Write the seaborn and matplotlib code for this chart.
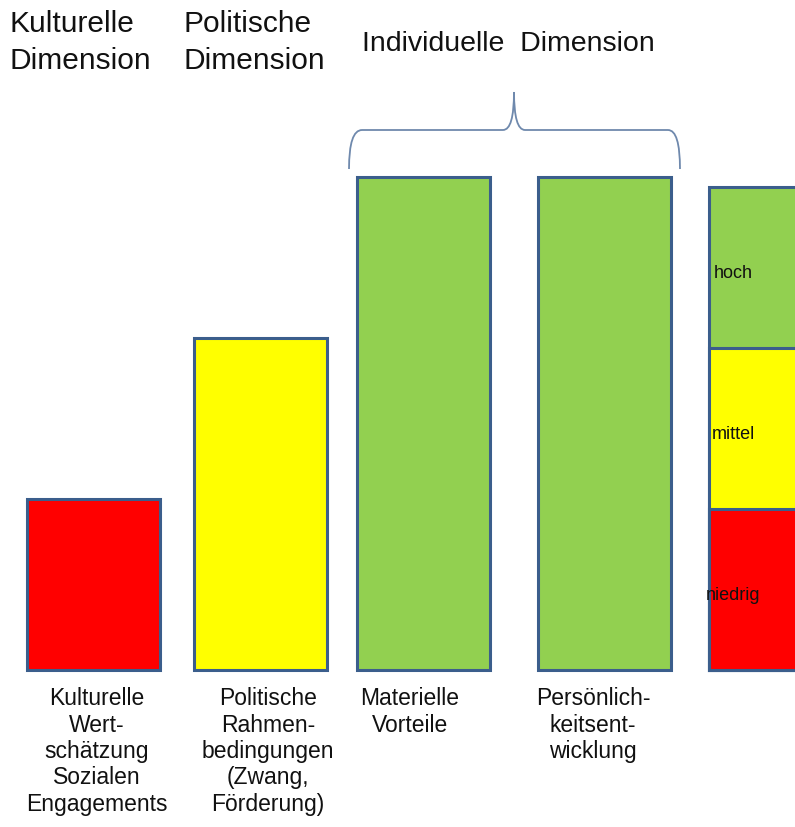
import numpy as np
import matplotlib
matplotlib.use("Agg")
import matplotlib.pyplot as plt
from matplotlib.path import Path
from matplotlib.patches import PathPatch
import seaborn as sns

# data
categories = ["Kulturelle\nWert-\nschätzung\nSozialen\nEngagements",
              "Politische\nRahmen-\nbedingungen\n(Zwang,\nFörderung)",
              "Materielle\nVorteile",
              "Persönlich-\nkeitsent-\nwicklung"]
levels = [1.06, 2.06, 3.06, 3.06]
bar_colors = ["#FF0000", "#FFFF00", "#92D050", "#92D050"]

scale_labels = ["hoch", "mittel", "niedrig"]
scale_sizes = [1, 1, 1]
scale_colors = ["#92D050", "#FFFF00", "#FF0000"]

headers = ["Kulturelle\nDimension", "Politische\nDimension", "Individuelle  Dimension"]

# layout (pixel based x axis, value based y axis)
bar_x = [93.5, 260.5, 423.5, 604.5]
label_x = [97, 268, 410, 593]
scale_x = 775.5
edge = "#3B5E8C"

sns.set_theme(style="white")
plt.rcParams["font.family"] = ["Liberation Sans", "DejaVu Sans"]
plt.rcParams["text.color"] = "#111111"

fig = plt.figure(figsize=(7.95, 8.28), dpi=100)
ax = fig.add_axes([0, 0, 1, 1])

sns.barplot(x=bar_x, y=levels, hue=categories, palette=bar_colors,
            native_scale=True, width=133 / 163, legend=False, saturation=1,
            edgecolor=edge, linewidth=2.2, ax=ax)

# stacked scale bar on the right (drawn tallest first)
tops = np.cumsum(scale_sizes[::-1])[::-1]
for lab, top, col in zip(scale_labels, tops, scale_colors):
    sns.barplot(x=[scale_x], y=[top], native_scale=True, width=133,
                color=col, saturation=1, edgecolor=edge, linewidth=2.2, ax=ax)
    ax.text(733, top - 0.53, lab, ha="center", va="center", fontsize=13)

# category labels under the bars
for x, lab in zip(label_x, categories):
    ax.text(x, -0.1, lab, ha="center", va="top", fontsize=16.5,
            linespacing=1.19)

ax.set_xlim(0, 795)
ax.set_ylim(-157 / 161, 671 / 161)
ax.axis("off")

# headers
fig.text(10 / 795, 1 - 10 / 828, headers[0], ha="left", va="top", fontsize=21.5, linespacing=1.4)
fig.text(183 / 795, 1 - 10 / 828, headers[1], ha="left", va="top", fontsize=21.5, linespacing=1.4)
fig.text(362 / 795, 1 - 44 / 828, headers[2], ha="left", va="center", fontsize=20.5)

# brace over the individual dimension
ov = fig.add_axes([0, 0, 1, 1], facecolor="none")
ov.set_xlim(0, 795)
ov.set_ylim(828, 0)
ov.axis("off")
verts = [(349, 170), (349, 131), (362, 131),
         (503, 131), (514, 131), (514, 93),
         (514, 131), (525, 131),
         (668, 131), (680, 131), (680, 170)]
codes = [Path.MOVETO, Path.CURVE3, Path.CURVE3,
         Path.LINETO, Path.CURVE3, Path.CURVE3,
         Path.CURVE3, Path.CURVE3,
         Path.LINETO, Path.CURVE3, Path.CURVE3]
ov.add_patch(PathPatch(Path(verts, codes), fill=False, edgecolor="#6F89AD", linewidth=1.3))

fig.savefig("out.png", dpi=100)
